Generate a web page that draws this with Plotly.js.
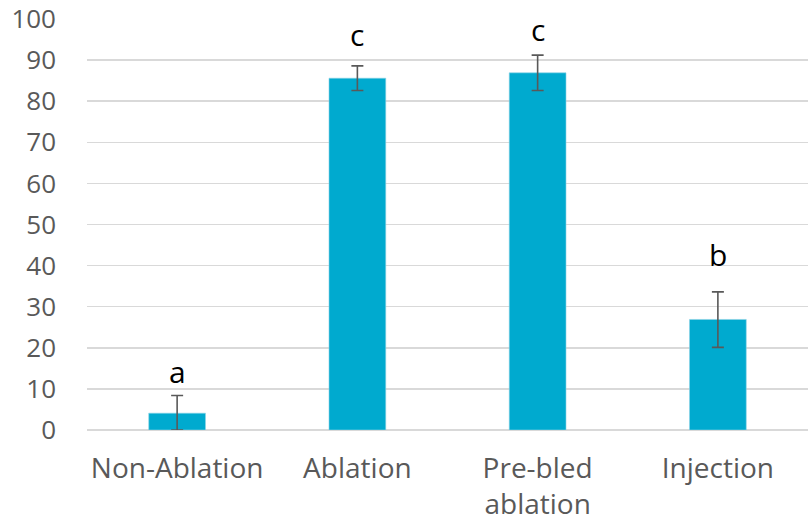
<!DOCTYPE html>
<html>
<head>
<meta charset="utf-8">
<script src="https://cdn.plot.ly/plotly-3.0.1.min.js"></script>
<style>html,body{margin:0;padding:0;background:#fff;}#chart{width:808px;height:522px;}</style>
</head>
<body>
<div id="chart"></div>
<script>
const categories = ["Non-Ablation", "Ablation", "Pre-bled<br>ablation", "Injection"];
const values = [4.1, 85.6, 86.9, 26.9];
const errPlus = [4.3, 3.0, 4.3, 6.7];
const errMinus = [4.1, 3.0, 4.3, 6.8];
const letters = ["a", "c", "c", "b"];
const letterY = [14.3, 96.3, 97.4, 42.6];
const yTicks = [0, 10, 20, 30, 40, 50, 60, 70, 80, 90, 100];

const trace = {
  type: "bar",
  x: categories,
  y: values,
  marker: {color: "#00AACF", line: {color: "#8fd3e6", width: 0.6}},
  error_y: {type: "data", symmetric: false, array: errPlus, arrayminus: errMinus,
            color: "#595959", thickness: 1.6, width: 6},
  hoverinfo: "skip"
};

const annotations = letters.map((t, i) => ({
  x: categories[i], y: letterY[i], xref: "x", yref: "y",
  text: t, showarrow: false,
  font: {family: "Open Sans, sans-serif", size: 30, color: "#000000"}
}));

const layout = {
  width: 808, height: 522,
  margin: {l: 87, r: 0, t: 19, b: 92},
  paper_bgcolor: "#ffffff", plot_bgcolor: "#ffffff",
  showlegend: false,
  bargap: 0.685,
  font: {family: "Open Sans, sans-serif", color: "#595959"},
  xaxis: {
    type: "category",
    tickfont: {family: "Open Sans, sans-serif", size: 28, color: "#595959"},
    ticks: "", showgrid: false, showline: false, zeroline: false,
    ticklabelstandoff: 19
  },
  yaxis: {
    range: [0, 100], tickvals: yTicks, ticktext: yTicks.map(String),
    tickfont: {family: "Open Sans, sans-serif", size: 26, color: "#595959"},
    showgrid: true, gridcolor: "#d9d9d9", gridwidth: 1.5,
    zeroline: true, zerolinecolor: "#d9d9d9", zerolinewidth: 1.5,
    showline: false, ticks: "", ticklabelstandoff: 30, fixedrange: true
  },
  annotations: annotations
};

Plotly.newPlot("chart", [trace], layout, {displayModeBar: false, staticPlot: true});
</script>
</body>
</html>
